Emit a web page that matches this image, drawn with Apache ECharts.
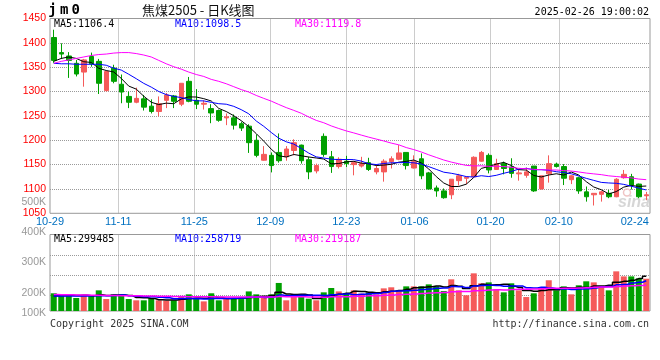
<!DOCTYPE html>
<html><head><meta charset="utf-8">
<script src="https://cdn.jsdelivr.net/npm/echarts@6/dist/echarts.min.js"></script>
<style>html,body{margin:0;padding:0;background:#fff}#c{width:660px;height:360px}</style>
</head><body><div id="c"></div>
<script>
// ---- data ----
const dates = ['10-29','10-30','10-31','11-01','11-04','11-05','11-06','11-07','11-08','11-11',
'11-12','11-13','11-14','11-15','11-18','11-19','11-20','11-21','11-22','11-25',
'11-26','11-27','11-28','11-29','12-02','12-03','12-04','12-05','12-06','12-09',
'12-10','12-11','12-12','12-13','12-16','12-17','12-18','12-19','12-20','12-23',
'12-24','12-25','12-26','12-27','12-30','12-31','01-02','01-03','01-06','01-07',
'01-08','01-09','01-10','01-13','01-14','01-15','01-16','01-17','01-20','01-21',
'01-22','01-23','01-24','01-27','02-05','02-06','02-07','02-10','02-11','02-12',
'02-13','02-14','02-17','02-18','02-19','02-20','02-21','02-24','02-25','02-26'];
const openPrices = [1411,1380,1373,1358,1340,1372,1362,1302,1348,1315,
1290,1278,1285,1270,1259,1282,1291,1274,1321,1282,
1274,1265,1261,1246,1246,1234,1229,1200,1159,1169,
1175,1166,1179,1190,1160,1137,1208,1166,1146,1157,
1150,1147,1154,1135,1135,1156,1161,1175,1143,1162,
1133,1102,1096,1088,1117,1122,1125,1157,1169,1140,
1152,1145,1131,1128,1147,1100,1131,1151,1146,1119,
1123,1094,1088,1089,1091,1084,1123,1125,1110,1086];
const closePrices = [1364,1377,1364,1336,1365,1357,1317,1341,1321,1299,
1278,1286,1268,1259,1275,1293,1280,1317,1280,1274,
1276,1256,1241,1248,1231,1225,1195,1169,1171,1148,
1158,1182,1195,1158,1135,1148,1171,1146,1161,1152,
1154,1152,1140,1142,1157,1162,1174,1148,1156,1127,
1100,1096,1082,1120,1127,1124,1165,1175,1139,1152,
1142,1132,1133,1135,1096,1127,1152,1146,1122,1127,
1096,1084,1091,1094,1084,1120,1130,1108,1084,1088];
const lowPrices = [1359,1367,1328,1331,1310,1351,1295,1300,1317,1276,
1266,1276,1261,1255,1249,1266,1266,1270,1278,1264,
1263,1235,1238,1231,1222,1219,1174,1165,1158,1134,
1154,1158,1169,1152,1120,1132,1166,1133,1142,1145,
1128,1144,1137,1130,1115,1142,1159,1140,1142,1120,
1099,1084,1080,1079,1107,1110,1124,1156,1132,1139,
1130,1123,1117,1123,1094,1099,1113,1144,1108,1110,
1090,1074,1066,1074,1081,1083,1121,1099,1081,1077];
const highPrices = [1427,1399,1381,1365,1367,1380,1367,1343,1355,1335,
1300,1308,1293,1284,1290,1297,1293,1317,1330,1305,
1282,1274,1263,1255,1253,1238,1233,1212,1188,1175,
1214,1188,1202,1191,1166,1152,1214,1178,1165,1168,
1157,1166,1164,1149,1161,1167,1190,1175,1169,1173,
1135,1107,1101,1120,1131,1125,1167,1178,1173,1162,
1156,1163,1139,1144,1147,1127,1169,1154,1151,1128,
1125,1105,1091,1096,1098,1122,1139,1131,1111,1094];
const volumes = [151,134,134,111,139,128,176,102,142,139,
102,91,91,108,91,88,91,125,142,105,
82,151,91,105,105,102,167,142,111,142,
239,91,119,125,105,91,159,196,167,148,
176,148,159,142,193,202,176,210,210,210,
227,210,170,270,176,134,321,236,244,184,
159,236,176,119,151,193,262,176,210,142,
219,253,244,210,176,338,295,295,278,275].map(v => v * 1000);
// moving-average values before the window is complete
const ma5Head = [1362,1368,1371,1368];
const ma10Head = [1358,1357,1357,1356,1356,1356,1356,1354,1348];
const ma30Head = [1358,1362,1365,1368,1371,1374,1376,1377,1379,1380,
1380,1378,1375,1371,1364,1357,1351,1346,1340,1335,
1331,1325,1321,1316,1310,1304,1299,1292,1286];
const volMa5Head = [130000,132000,134000,133000];
const volMa10Head = [127000,127000,128000,128000,128000,129000,130000,131000,133000];
const volMa30Head = [140000,139000,138000,137000,136000,135000,134000,133000,132000,131000,
130000,129000,128000,127000,126000,125000,124000,123000,122000,122000,
121000,121000,120000,120000,119000,119000,119000,119000,119000];
const priceMin = 1050, priceMax = 1450, priceStep = 50;
const volLabelMin = 100000, volLabelMax = 500000, volLabelStep = 100000;
const labelIdx = [0,9,19,29,39,48,58,67,77];
const gridIdx = [9,19,29,39,48,58,67];
const legendMain = ['MA5:1106.4','MA10:1098.5','MA30:1119.8'];
const legendVol = ['MA5:299485','MA10:258719','MA30:219187'];

// ---- helpers ----
function movingAvg(arr, n, head) {
  const out = [];
  for (let i = 0; i < arr.length; i++) {
    if (i < n - 1) { out.push(head[i]); continue; }
    let s = 0; for (let j = i - n + 1; j <= i; j++) s += arr[j];
    out.push(+(s / n).toFixed(2));
  }
  return out;
}
const RED = '#f55a5a', GREEN = '#00a000';
const MONO = 'DejaVu Sans Mono';
const candleData = dates.map((d, i) => [openPrices[i], closePrices[i], lowPrices[i], highPrices[i]]);
const volData = volumes.map((v, i) => ({ value: v, itemStyle: { color: closePrices[i] >= openPrices[i] ? RED : GREEN } }));
const dotted = { color: '#9a9a9a', type: [1, 1], width: 1 };

const chart = echarts.init(document.getElementById('c'), null, { renderer: 'canvas' });
const hiddenCat = (grid, gap) => ({ type: 'category', gridIndex: grid, data: dates, boundaryGap: gap, position: 'bottom',
  axisLine: { show: false }, axisTick: { show: false }, axisLabel: { show: false }, splitLine: { show: false } });

const option = {
  animation: false,
  backgroundColor: '#ffffff',
  grid: [
    { left: 50, right: 10, top: 18.5, height: 194.8, show: true, borderColor: '#999', borderWidth: 1, backgroundColor: 'transparent' },
    { left: 50, right: 10, top: 234.5, height: 76.5, show: true, borderColor: '#999', borderWidth: 1, backgroundColor: 'transparent' },
    { left: 50, right: 10, top: 201.7, height: 121.3, show: false },
    { left: 50, right: 10, top: 235.3, height: 80, show: false }
  ],
  xAxis: [
    hiddenCat(0, true),
    { type: 'category', gridIndex: 0, data: dates, boundaryGap: false, position: 'bottom',
      axisLine: { show: false }, axisTick: { show: false },
      axisLabel: { interval: (i) => labelIdx.includes(i), color: '#0070c0', fontSize: 11, fontFamily: 'Liberation Sans', margin: 3, hideOverlap: false },
      splitLine: { show: true, interval: (i) => gridIdx.includes(i), lineStyle: dotted } },
    hiddenCat(1, true),
    { type: 'category', gridIndex: 1, data: dates, boundaryGap: false, position: 'bottom',
      axisLine: { show: false }, axisTick: { show: false }, axisLabel: { show: false },
      splitLine: { show: true, interval: (i) => gridIdx.includes(i), lineStyle: dotted } },
    hiddenCat(2, true),
    hiddenCat(3, true)
  ],
  yAxis: [
    { type: 'value', gridIndex: 0, min: priceMin, max: priceMax, interval: priceStep,
      axisLine: { show: false }, axisTick: { show: false },
      axisLabel: { color: '#ff0000', fontSize: 10.5, fontFamily: 'Liberation Sans', margin: 4, padding: [0, 0, 4, 0], formatter: (v) => String(v) },
      splitLine: { show: true, lineStyle: dotted, showMinLine: false, showMaxLine: false } },
    { type: 'value', gridIndex: 1, min: 0, max: 652000,
      axisLine: { show: false }, axisTick: { show: false }, axisLabel: { show: false }, splitLine: { show: false } },
    { type: 'value', gridIndex: 2, min: volLabelMin, max: volLabelMax, interval: volLabelStep,
      axisLine: { show: false }, axisTick: { show: false }, splitLine: { show: false },
      axisLabel: { color: '#999', fontSize: 10.5, fontFamily: 'Liberation Sans', margin: 4,
        formatter: (v) => v === volLabelMin ? '{u|' + (v / 1000) + 'K}' : (v / 1000) + 'K',
        rich: { u: { padding: [0, 0, 20, 0], color: '#999', fontSize: 10.5, fontFamily: 'Liberation Sans' } } } },
    { type: 'value', gridIndex: 3, min: 0, max: 4, interval: 1,
      axisLine: { show: false }, axisTick: { show: false }, axisLabel: { show: false },
      splitLine: { show: true, lineStyle: dotted, showMinLine: false, showMaxLine: false } }
  ],
  series: [
    { type: 'candlestick', xAxisIndex: 0, yAxisIndex: 0, data: candleData, barWidth: 5,
      itemStyle: { color: RED, color0: GREEN, borderColor: RED, borderColor0: GREEN, borderWidth: 1 } },
    { type: 'line', xAxisIndex: 0, yAxisIndex: 0, data: movingAvg(closePrices, 5, ma5Head), symbol: 'none', lineStyle: { color: '#000', width: 1 }, z: 5 },
    { type: 'line', xAxisIndex: 0, yAxisIndex: 0, data: movingAvg(closePrices, 10, ma10Head), symbol: 'none', lineStyle: { color: '#0000ff', width: 1 }, z: 5 },
    { type: 'line', xAxisIndex: 0, yAxisIndex: 0, data: movingAvg(closePrices, 30, ma30Head), symbol: 'none', lineStyle: { color: '#ff00ff', width: 1 }, z: 5 },
    { type: 'bar', xAxisIndex: 2, yAxisIndex: 1, data: volData, barWidth: 6 },
    { type: 'line', xAxisIndex: 2, yAxisIndex: 1, data: movingAvg(volumes, 5, volMa5Head), step: 'middle', symbol: 'none', lineStyle: { color: '#000', width: 1.5 }, z: 5 },
    { type: 'line', xAxisIndex: 2, yAxisIndex: 1, data: movingAvg(volumes, 10, volMa10Head), step: 'middle', symbol: 'none', lineStyle: { color: '#0000ff', width: 1.5 }, z: 5 },
    { type: 'line', xAxisIndex: 2, yAxisIndex: 1, data: movingAvg(volumes, 30, volMa30Head), step: 'middle', symbol: 'none', lineStyle: { color: '#ff00ff', width: 1.5 }, z: 5 }
  ],
  graphic: [
    { type: 'text', left: 48.2, top: 3, style: { text: '{c|j}{c|m}{c|0}', rich: { c: { width: 11.7, align: 'center', fontSize: 14, fontWeight: 'bold', fontFamily: MONO, fill: '#000' } } } },
    { type: 'text', x: 142, y: 10, style: { text: '焦煤2505 - 日K线图', fontSize: 13, fontFamily: 'Noto Sans CJK SC', fill: '#111', verticalAlign: 'middle' } },
    { type: 'text', x: 649, y: 12, style: { text: '2025-02-26 19:00:02', fontSize: 10, fontFamily: MONO, fill: '#000', align: 'right', verticalAlign: 'middle' } },
    { type: 'text', x: 54, y: 24, style: { text: legendMain[0], fontSize: 10, fontFamily: MONO, fill: '#000', verticalAlign: 'middle' } },
    { type: 'text', x: 175, y: 24, style: { text: legendMain[1], fontSize: 10, fontFamily: MONO, fill: '#0000ff', verticalAlign: 'middle' } },
    { type: 'text', x: 295, y: 24, style: { text: legendMain[2], fontSize: 10, fontFamily: MONO, fill: '#ff00ff', verticalAlign: 'middle' } },
    { type: 'text', x: 54, y: 239.5, style: { text: legendVol[0], fontSize: 10, fontFamily: MONO, fill: '#000', verticalAlign: 'middle' } },
    { type: 'text', x: 175, y: 239.5, style: { text: legendVol[1], fontSize: 10, fontFamily: MONO, fill: '#0000ff', verticalAlign: 'middle' } },
    { type: 'text', x: 295, y: 239.5, style: { text: legendVol[2], fontSize: 10, fontFamily: MONO, fill: '#ff00ff', verticalAlign: 'middle' } },
    { type: 'text', x: 50, y: 324, style: { text: 'Copyright 2025 SINA.COM', fontSize: 10, fontFamily: MONO, fill: '#333', verticalAlign: 'middle' } },
    { type: 'text', x: 649, y: 324, style: { text: 'http://finance.sina.com.cn', fontSize: 10, fontFamily: MONO, fill: '#333', align: 'right', verticalAlign: 'middle' } },
    { type: 'circle', shape: { cx: 627, cy: 192.5, r: 3.5 }, style: { fill: 'none', stroke: '#f0c4c4', lineWidth: 1.5 }, z: 1 },
    { type: 'text', x: 618, y: 203, style: { text: 'sina', fontSize: 16, fontStyle: 'italic', fontWeight: 'bold', fontFamily: 'Liberation Sans', fill: '#d6d6d6', verticalAlign: 'middle' }, z: 1 }
  ]
};
chart.setOption(option);
</script>
</body></html>
